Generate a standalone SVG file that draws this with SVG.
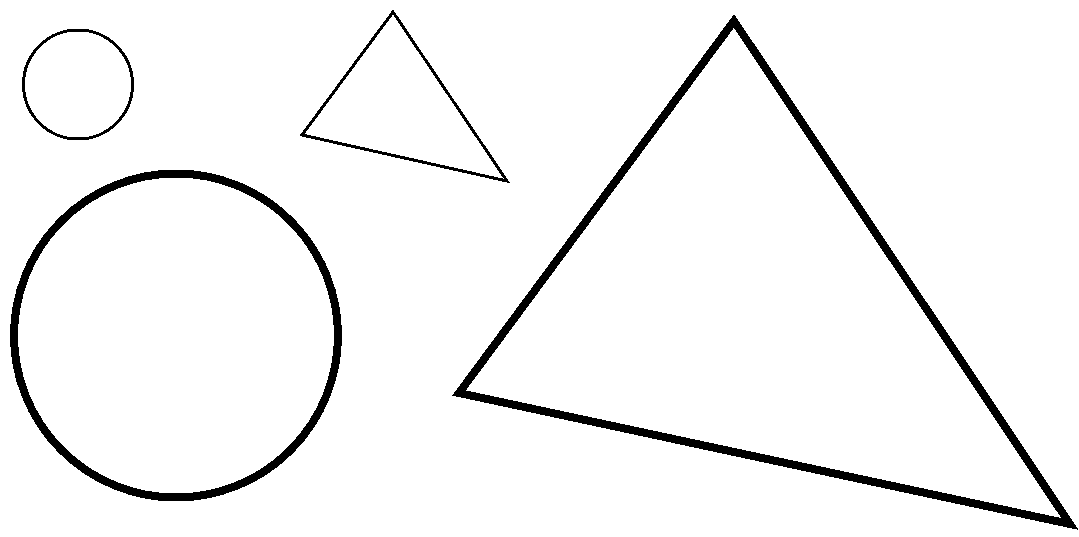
<svg xmlns="http://www.w3.org/2000/svg" width="1079" height="537" viewBox="0 0 1079 537">
<style>
.shape{fill:none;stroke:#000;shape-rendering:crispEdges}
.thin{stroke-width:3}
.thick{stroke-width:8}
</style>
<rect width="1079" height="537" fill="#fff"/>
<g id="small-circle"><circle class="shape thin" cx="78" cy="84.5" r="54.5"/></g>
<g id="small-triangle"><polygon class="shape thin" points="393,12 302,135 507,181"/></g>
<g id="large-circle"><circle class="shape thick" cx="176" cy="335.5" r="162"/></g>
<g id="large-triangle"><polygon class="shape thick" points="734,21 459,393 1070,524"/></g>
<g id="connectors"></g>
</svg>
